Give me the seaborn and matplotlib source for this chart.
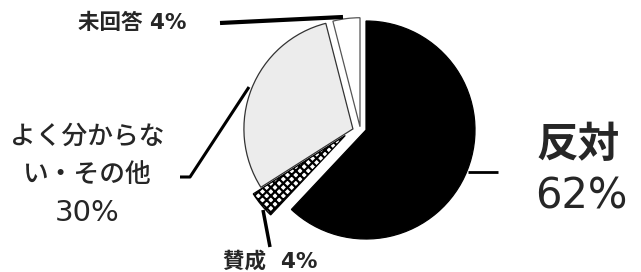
import matplotlib
matplotlib.use("Agg")
from matplotlib import pyplot as plt
import seaborn as sns

# survey answers, clockwise from 12 o'clock
categories = ["反対", "賛成", "よく分から\nない・その他", "未回答"]
shares = [62, 4, 30, 4]

sns.set_theme(style="white")
plt.rcParams["font.family"] = ["DejaVu Sans", "Noto Sans CJK JP"]
plt.rcParams["hatch.linewidth"] = 1.6

fig = plt.figure(figsize=(6.41, 2.72), dpi=100)
ax = fig.add_axes([0, 0, 1, 1])

# pie centre at (366, 130) px, radius 109 px
R_PX, CX, CY = 109.0, 366.0, 130.0
def px(x, y):
    return (x - CX) / R_PX, (CY - y) / R_PX

face = ["black", "white", "#ececec", "white"]
edge = ["black", "black", "#333333", "#555555"]
hatch = [None, "xxxx", None, None]
shift = [(0, 0), (-0.19, -0.05), (-0.12, 0.01), (-0.055, 0.03)]

wedges, _ = ax.pie(shares, startangle=90, counterclock=False, radius=1,
                   colors=face, wedgeprops=dict(linewidth=0.9))
for w, ec, h, s in zip(wedges, edge, hatch, shift):
    w.set_edgecolor(ec)
    if h:
        w.set_hatch(h)
    w.set_center(s)
ax.set_xlim(px(0, 0)[0], px(641, 0)[0])
ax.set_ylim(px(0, 272)[1], px(0, 0)[1])
ax.axis("off")

def line(points, lw):
    xs, ys = zip(*[px(*p) for p in points])
    ax.plot(xs, ys, color="black", lw=lw, solid_capstyle="butt")

# 反対
line([(468, 172), (498, 172)], 2.0)
x, y = px(578, 145)
ax.text(x, y, categories[0], fontsize=30, fontweight="bold",
        family=["Noto Sans CJK JP"], ha="center", va="center")
x, y = px(581, 196)
ax.text(x, y, f"{shares[0]}%", fontsize=30, ha="center", va="center")

# 賛成
line([(263, 210), (270, 247)], 2.5)
x, y = px(270, 261)
ax.text(x, y, f"{categories[1]}  {shares[1]}%", fontsize=15.5,
        fontweight="semibold", ha="center", va="center")

# よく分からない・その他
line([(180, 177), (190, 177), (249, 87)], 2.2)
for i, txt in enumerate(["よく分からな", "い・その他", f"{shares[2]}%"]):
    x, y = px(87, 137 + 38 * i)
    ax.text(x, y, txt, fontsize=18.5 if i < 2 else 21,
            fontweight="medium", ha="center", va="center")

# 未回答
line([(220, 23), (343, 17)], 3.0)
x, y = px(132, 23)
ax.text(x, y, f"{categories[3]} {shares[3]}%", fontsize=15.5,
        fontweight="semibold", ha="center", va="center")

fig.savefig("out.png", dpi=100)
